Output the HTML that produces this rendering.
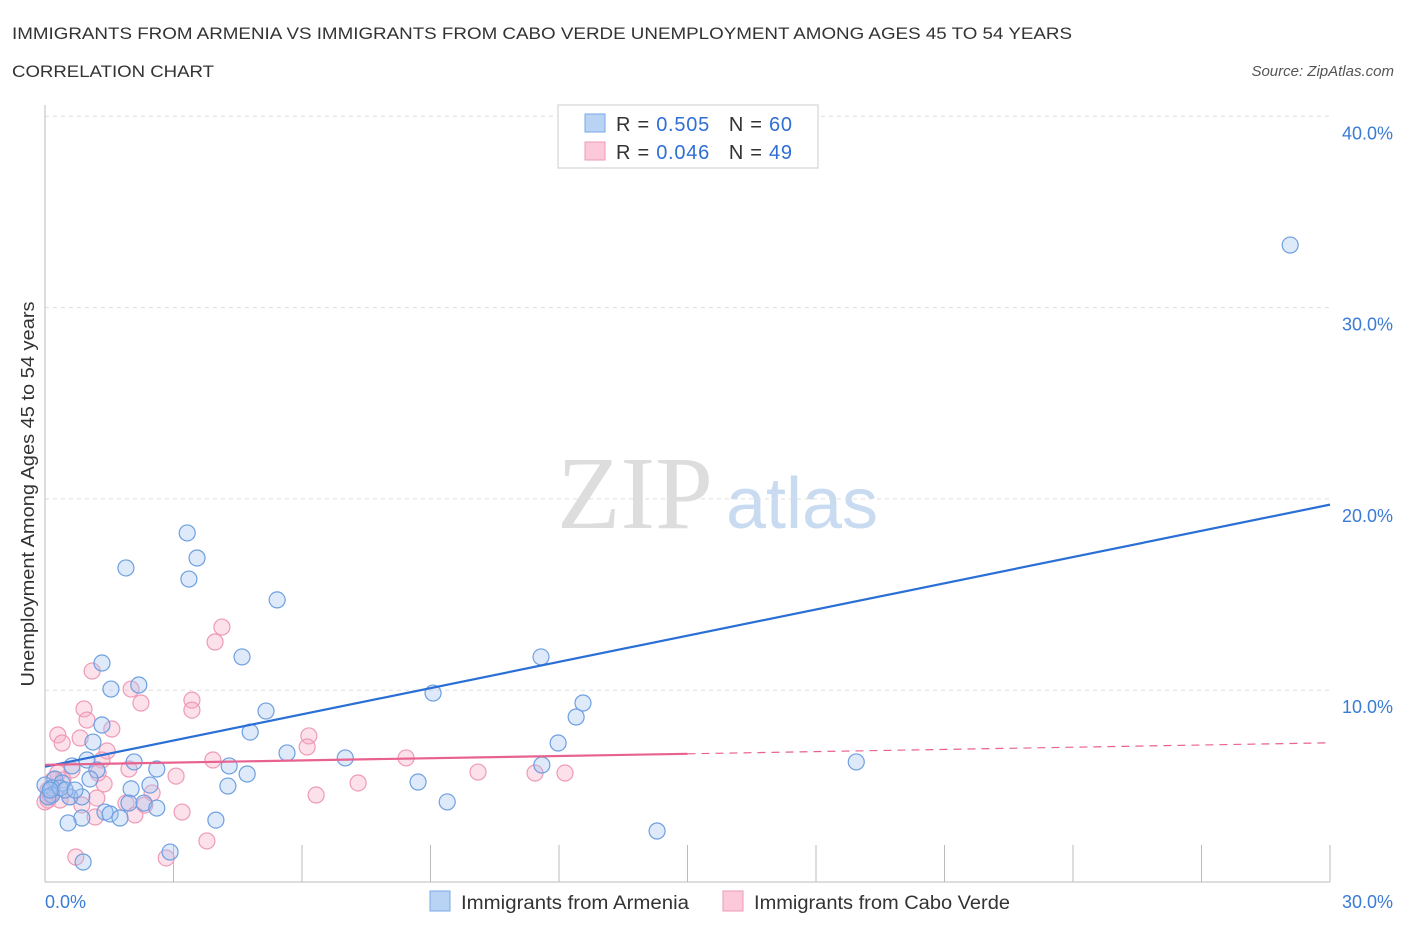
<!DOCTYPE html>
<html><head><meta charset="utf-8"><style>
body{margin:0;background:#fff;font-family:"Liberation Sans",sans-serif;}
svg{display:block}
</style></head><body>
<svg id="c" width="1406" height="930">
<text x="12" y="39" font-size="17" fill="#333" textLength="1060" lengthAdjust="spacingAndGlyphs">IMMIGRANTS FROM ARMENIA VS IMMIGRANTS FROM CABO VERDE UNEMPLOYMENT AMONG AGES 45 TO 54 YEARS</text>
<text x="12" y="77" font-size="17" fill="#333" textLength="202" lengthAdjust="spacingAndGlyphs">CORRELATION CHART</text>
<text x="1394" y="76" font-size="15" fill="#555" text-anchor="end" font-style="italic">Source: ZipAtlas.com</text>
<text x="635" y="528" font-size="104" fill="#ddd" text-anchor="middle" font-family="Liberation Serif,serif">ZIP</text>
<text x="802" y="528" font-size="72" fill="#c9dbf0" text-anchor="middle">atlas</text>
<text transform="translate(34,494) rotate(-90)" font-size="18" fill="#333" text-anchor="middle" textLength="385" lengthAdjust="spacingAndGlyphs">Unemployment Among Ages 45 to 54 years</text>
<g id="grid"></g><g id="pts"></g><g id="lines"></g>
<g>
<rect x="558" y="105" width="260" height="63" fill="#fff" stroke="#ccc"/>
<rect x="585" y="114" width="20" height="18" fill="#b9d3f5" stroke="#7aa7e6"/>
<rect x="585" y="142" width="20" height="18" fill="#fbc9d9" stroke="#ee9ab7"/>
<text x="616" y="131" font-size="20" fill="#333" textLength="176" lengthAdjust="spacing">R = <tspan fill="#2f6fd4">0.505</tspan>&#160;&#160;&#160;N = <tspan fill="#2f6fd4">60</tspan></text>
<text x="616" y="159" font-size="20" fill="#333" textLength="176" lengthAdjust="spacing">R = <tspan fill="#2f6fd4">0.046</tspan>&#160;&#160;&#160;N = <tspan fill="#2f6fd4">49</tspan></text>
</g>
<g>
<rect x="430" y="891" width="20" height="20" fill="#b9d3f5" stroke="#7aa7e6"/>
<text x="461" y="909" font-size="19" fill="#333" textLength="228" lengthAdjust="spacingAndGlyphs">Immigrants from Armenia</text>
<rect x="723" y="891" width="20" height="20" fill="#fbc9d9" stroke="#ee9ab7"/>
<text x="754" y="909" font-size="19" fill="#333" textLength="256" lengthAdjust="spacingAndGlyphs">Immigrants from Cabo Verde</text>
</g>
</svg>
<script>
const yTicks=[10,20,30,40];
const yTickLabels=["10.0%","20.0%","30.0%","40.0%"];
const xTickLabels=["0.0%","30.0%"];
const armeniaX=[29.07,3.32,3.55,1.89,3.36,5.42,4.60,11.58,1.33,2.19,1.54,9.06,12.56,5.16,12.40,1.33,4.79,1.12,11.98,5.65,7.01,18.94,11.60,2.08,2.61,4.30,0.98,0.63,1.21,4.72,1.05,0.23,0.40,0,0.16,8.71,4.27,2.01,2.45,0.16,0.58,0.07,0.86,9.39,1.96,2.31,2.61,1.40,1.52,1.75,0.86,0.54,3.99,14.29,2.92,0.89,0.35,0.47,0.12,0.70];
const armeniaY=[33.27,18.22,16.91,16.39,15.81,14.72,11.74,11.74,11.42,10.27,10.06,9.85,9.33,8.91,8.60,8.18,7.81,7.29,7.24,6.72,6.46,6.25,6.09,6.25,5.88,6.04,6.35,6.04,5.83,5.62,5.36,5.36,5.15,5.04,4.89,5.20,4.99,4.84,5.04,4.52,4.42,4.42,4.42,4.16,4.10,4.10,3.84,3.63,3.53,3.32,3.32,3.06,3.21,2.64,1.54,1.02,4.89,4.78,4.78,4.78];
const caboX=[4.13,3.97,1.10,2.01,3.43,2.24,3.43,0.91,0.98,1.56,0.30,6.16,0.40,0.82,1.45,6.12,3.92,8.43,1.33,1.96,10.11,12.14,11.44,3.06,0.63,0.30,1.24,0.42,1.38,7.31,2.50,6.33,1.89,2.33,1.21,0.12,0.86,3.20,2.10,1.17,0.07,0.19,3.78,0.72,2.83,0.07,0.35,0.58,0];
const caboY=[13.30,12.52,11.00,10.06,9.48,9.33,8.96,9.02,8.44,7.97,7.66,7.61,7.24,7.50,6.82,7.03,6.35,6.46,6.35,5.88,5.72,5.67,5.67,5.51,5.83,5.67,5.67,5.31,5.10,5.15,4.63,4.52,4.10,4.00,4.36,4.47,4.00,3.63,3.48,3.37,4.26,5.31,2.12,1.28,1.23,4.78,4.26,4.42,4.16];
const armeniaTrend=[6.0,19.7];
const caboTrend=[6.1,7.25];
const NS="http://www.w3.org/2000/svg";
const X0=45,X1=1330,Y0=881.5,PPY=19.13;
function sx(v){return X0+(X1-X0)*v/30;}
function sy(v){return Y0-v*PPY;}
function mk(tag,attrs,parent){const e=document.createElementNS(NS,tag);for(const k in attrs)e.setAttribute(k,attrs[k]);parent.appendChild(e);return e;}
const grid=document.getElementById('grid'),pts=document.getElementById('pts'),lines=document.getElementById('lines');
yTicks.forEach((t,i)=>{
 const l=mk('line',{x1:X0,x2:X1,y1:sy(t),y2:sy(t),stroke:'#ddd','stroke-dasharray':'4,4'},grid);
 
 
 const tx=mk('text',{x:1393,y:sy(t)+23,'font-size':18,fill:'#3a7bd5','text-anchor':'end'},grid);
 tx.textContent=yTickLabels[i];
 
 
});
const ax=mk('line',{x1:X0,x2:X0,y1:105,y2:882,stroke:'#bbb'},grid);


const bx=mk('line',{x1:X0,x2:X1,y1:882,y2:882,stroke:'#bbb'},grid);


for(let i=1;i<=10;i++){
 const l=mk('line',{x1:sx(i*3),x2:sx(i*3),y1:845,y2:882,stroke:'#bbb'},grid);
 
 
}
[[0,'start',45],[30,'end',1393]].forEach((d,i)=>{
 const tx=mk('text',{x:d[2],y:908,'font-size':18,fill:'#3a7bd5','text-anchor':d[1]},grid);
 tx.textContent=xTickLabels[i];
 
 
});
caboX.forEach((x,i)=>{
 const c=mk('circle',{cx:sx(x),cy:sy(caboY[i]),r:8,fill:'rgba(246,170,196,0.35)',stroke:'#ee9ab7','stroke-width':1.2},pts);
 
 
});
armeniaX.forEach((x,i)=>{
 const c=mk('circle',{cx:sx(x),cy:sy(armeniaY[i]),r:8,fill:'rgba(160,195,240,0.35)',stroke:'#6d9fe0','stroke-width':1.2},pts);
 
 
});
const bl=mk('line',{x1:sx(0),y1:sy(armeniaTrend[0]),x2:sx(30),y2:sy(armeniaTrend[1]),stroke:'#2a6fd6','stroke-width':2.2},lines);


const cy=t=>caboTrend[0]+(caboTrend[1]-caboTrend[0])*t/30;
const pl=mk('line',{x1:sx(0),y1:sy(cy(0)),x2:sx(15),y2:sy(cy(15)),stroke:'#e8628f','stroke-width':2.2},lines);


const pd=mk('line',{x1:sx(15),y1:sy(cy(15)),x2:sx(30),y2:sy(cy(30)),stroke:'#e8628f','stroke-width':1.2,'stroke-dasharray':'8,6'},lines);


</script>
</body></html>
